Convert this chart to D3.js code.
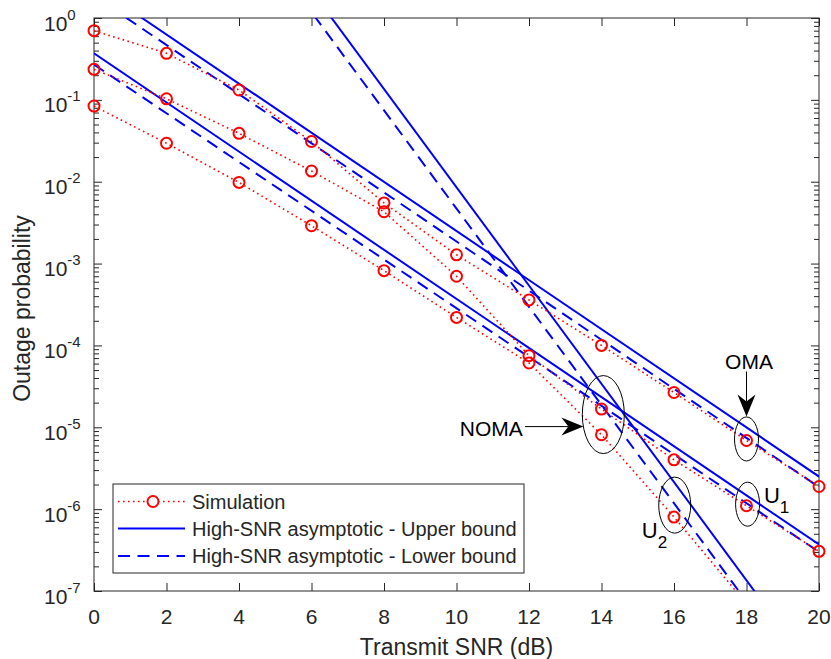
<!DOCTYPE html>
<html>
<head>
<meta charset="utf-8">
<script src="https://cdn.jsdelivr.net/npm/d3@7"></script>
<style>
  body { margin: 0; background: #fff; }
  svg { font-family: "Liberation Sans", Arial, sans-serif; }
</style>
</head>
<body>
<div id="chart"></div>
<script>
// SNR grid (dB)
const snr = [0, 2, 4, 6, 8, 10, 12, 14, 16, 18, 20]
const snrU2 = [0, 2, 4, 6, 8, 10, 12, 14, 16, 18]

// Simulation results
const omaSim = [0.70, 0.37, 0.132, 0.031, 0.0055, 0.00128, 3.6e-4, 1.0e-4, 2.66e-5, 6.9e-6, 1.89e-6]
const nomaU1Sim = [0.236, 0.103, 0.039, 0.0135, 0.0043, 7.0e-4, 7.5e-5, 1.67e-5, 4.0e-6, 1.1e-6, 3.05e-7]
const nomaU2Sim = [0.084, 0.0295, 0.0098, 0.0029, 8.2e-4, 2.2e-4, 6.1e-5, 8.1e-6, 8.0e-7, 7e-8]

// High-SNR asymptotes (straight on log axis), values at the ends of the range
const asymSnr = [0, 20]
const omaUpper = [2.5, 2.5e-6]
const omaLower = [1.86, 1.86e-6]
const nomaU1Upper = [0.37, 3.7e-7]
const nomaU1Lower = [0.27, 3.0e-7]
const nomaU2Upper = [8600, 8.5e-9]
const nomaU2Lower = [4700, 4.7e-9]

const xTicks = [0, 2, 4, 6, 8, 10, 12, 14, 16, 18, 20]
const yExponents = [0, -1, -2, -3, -4, -5, -6, -7]

const legendLabels = ['Simulation', 'High-SNR asymptotic - Upper bound', 'High-SNR asymptotic - Lower bound']

const width = 831, height = 659
const plot = { left: 94, right: 819, top: 18, bottom: 591 }
const axisColor = '#262626'
const red = '#ff0000', blue = '#0000ff'

const svg = d3.select('#chart').append('svg')
  .attr('width', width)
  .attr('height', height)

const x = d3.scaleLinear().domain([0, 20]).range([plot.left, plot.right])
const y = d3.scaleLog().domain([1e-7, 1]).range([plot.bottom, plot.top])

svg.append('defs').append('clipPath').attr('id', 'plot-clip')
  .append('rect')
  .attr('x', plot.left).attr('y', plot.top)
  .attr('width', plot.right - plot.left).attr('height', plot.bottom - plot.top)

// Axes: ticks pointing inward on all four sides
const minorTicks = []
for (let e = -7; e < 0; e++) for (let m = 2; m <= 9; m++) minorTicks.push(m * Math.pow(10, e))
const majorTicks = yExponents.map(e => Math.pow(10, e))

function drawAxis(axis, transform) {
  const g = svg.append('g').attr('transform', transform).call(axis)
  g.select('.domain').remove()
  g.selectAll('line').attr('stroke', axisColor).attr('stroke-width', 1)
  return g
}

drawAxis(d3.axisBottom(x).tickValues(xTicks).tickSize(-8).tickFormat(''), `translate(0,${plot.bottom})`)
drawAxis(d3.axisTop(x).tickValues(xTicks).tickSize(-8).tickFormat(''), `translate(0,${plot.top})`)
drawAxis(d3.axisLeft(y).tickValues(majorTicks).tickSize(-8).tickFormat(''), `translate(${plot.left},0)`)
drawAxis(d3.axisRight(y).tickValues(majorTicks).tickSize(-8).tickFormat(''), `translate(${plot.right},0)`)
drawAxis(d3.axisLeft(y).tickValues(minorTicks).tickSize(-5).tickFormat(''), `translate(${plot.left},0)`)
drawAxis(d3.axisRight(y).tickValues(minorTicks).tickSize(-5).tickFormat(''), `translate(${plot.right},0)`)

svg.append('rect')
  .attr('x', plot.left).attr('y', plot.top)
  .attr('width', plot.right - plot.left).attr('height', plot.bottom - plot.top)
  .attr('fill', 'none').attr('stroke', axisColor).attr('stroke-width', 1)

// x tick labels
svg.append('g').selectAll('text')
  .data(xTicks).enter().append('text')
  .attr('x', d => x(d)).attr('y', plot.bottom + 33)
  .attr('text-anchor', 'middle')
  .attr('font-size', 21).attr('fill', axisColor)
  .text(d => d)

// y tick labels 10^k
const yLab = svg.append('g').selectAll('text')
  .data(yExponents).enter().append('text')
  .attr('x', 44).attr('y', d => y(Math.pow(10, d)) + 12.5)
  .attr('font-size', 21).attr('fill', axisColor)
yLab.append('tspan').text('10')
yLab.append('tspan').attr('dy', -11).attr('font-size', 15).text(d => d)

// axis titles
svg.append('text')
  .attr('x', (plot.left + plot.right) / 2).attr('y', 655)
  .attr('text-anchor', 'middle').attr('font-size', 23).attr('fill', axisColor)
  .text('Transmit SNR (dB)')
svg.append('text')
  .attr('transform', `translate(30,${(plot.top + plot.bottom) / 2 + 4}) rotate(-90)`)
  .attr('text-anchor', 'middle').attr('font-size', 23).attr('fill', axisColor)
  .text('Outage probability')

// Plot lines
const lineGen = d3.line().x(d => x(d[0])).y(d => y(d[1]))
const lines = svg.append('g').attr('clip-path', 'url(#plot-clip)')

const asymptotes = [
  { v: omaUpper, dash: null }, { v: omaLower, dash: '12,7.5' },
  { v: nomaU1Upper, dash: null }, { v: nomaU1Lower, dash: '12,7.5' },
  { v: nomaU2Upper, dash: null }, { v: nomaU2Lower, dash: '12,7.5' }
]
asymptotes.forEach(a => {
  lines.append('path')
    .attr('d', lineGen(d3.zip(asymSnr, a.v)))
    .attr('fill', 'none').attr('stroke', blue).attr('stroke-width', 2)
    .attr('stroke-dasharray', a.dash)
})

const sims = [d3.zip(snr, omaSim), d3.zip(snr, nomaU1Sim), d3.zip(snrU2, nomaU2Sim)]
sims.forEach(s => {
  lines.append('path')
    .attr('d', lineGen(s))
    .attr('fill', 'none').attr('stroke', red).attr('stroke-width', 1.6)
    .attr('stroke-dasharray', '1.6,3.4')
})
sims.forEach(s => {
  svg.append('g').selectAll('circle')
    .data(s.filter(d => d[1] >= 1e-7)).enter().append('circle')
    .attr('cx', d => x(d[0])).attr('cy', d => y(d[1])).attr('r', 5.5)
    .attr('fill', 'none').attr('stroke', red).attr('stroke-width', 2)
})

// Annotations
const ann = svg.append('g')
const ellipses = [
  { x: 18, y: 7.2e-6, rx: 12, ry: 22 },
  { x: 14.05, y: 1.43e-5, rx: 21, ry: 39 },
  { x: 18.03, y: 1.15e-6, rx: 12, ry: 22 },
  { x: 16.02, y: 1.12e-6, rx: 16, ry: 28 }
]
ann.selectAll('ellipse').data(ellipses).enter().append('ellipse')
  .attr('cx', d => x(d.x)).attr('cy', d => y(d.y))
  .attr('rx', d => d.rx).attr('ry', d => d.ry)
  .attr('fill', 'none').attr('stroke', '#000').attr('stroke-width', 1)

function arrow(x1, y1, x2, y2) {
  const ang = Math.atan2(y2 - y1, x2 - x1)
  const len = 22, half = 9, notch = 15
  const p = (l, w) => [x2 - l * Math.cos(ang) - w * Math.sin(ang), y2 - l * Math.sin(ang) + w * Math.cos(ang)]
  ann.append('line')
    .attr('x1', x1).attr('y1', y1).attr('x2', x2 - notch * Math.cos(ang)).attr('y2', y2 - notch * Math.sin(ang))
    .attr('stroke', '#000').attr('stroke-width', 1)
  ann.append('path')
    .attr('d', d3.line()([[x2, y2], p(len, half), p(notch, 0), p(len, -half)]) + 'Z')
    .attr('fill', '#000')
}
arrow(x(18), y(4.8e-5), x(18), y(1.35e-5))
arrow(x(11.89), y(1.02e-5), x(13.5), y(1.02e-5))

ann.append('text').attr('x', x(18.07)).attr('y', y(5.2e-5))
  .attr('text-anchor', 'middle').attr('font-size', 21).text('OMA')
ann.append('text').attr('x', x(11.83)).attr('y', y(7.9e-6))
  .attr('text-anchor', 'end').attr('font-size', 21).text('NOMA')
const u1 = ann.append('text').attr('x', x(18.48)).attr('y', y(1.2e-6)).attr('font-size', 22)
u1.append('tspan').text('U')
u1.append('tspan').attr('dy', 10).attr('font-size', 17).text('1')
const u2 = ann.append('text').attr('x', x(15.11)).attr('y', y(4.5e-7)).attr('font-size', 22)
u2.append('tspan').text('U')
u2.append('tspan').attr('dy', 10).attr('font-size', 17).text('2')

// Legend
const legend = svg.append('g').attr('transform', 'translate(113,484)')
legend.append('rect')
  .attr('width', 411).attr('height', 89)
  .attr('fill', '#fff').attr('stroke', axisColor).attr('stroke-width', 1)
const rowY = [17.5, 44.5, 72]
legend.append('line').attr('x1', 5).attr('x2', 72).attr('y1', rowY[0]).attr('y2', rowY[0])
  .attr('stroke', red).attr('stroke-width', 1.6).attr('stroke-dasharray', '1.6,3.4')
legend.append('circle').attr('cx', 40).attr('cy', rowY[0]).attr('r', 5.5)
  .attr('fill', '#fff').attr('stroke', red).attr('stroke-width', 2)
legend.append('line').attr('x1', 5).attr('x2', 72).attr('y1', rowY[1]).attr('y2', rowY[1])
  .attr('stroke', blue).attr('stroke-width', 2)
legend.append('line').attr('x1', 5).attr('x2', 72).attr('y1', rowY[2]).attr('y2', rowY[2])
  .attr('stroke', blue).attr('stroke-width', 2).attr('stroke-dasharray', '12,7.5')
legend.selectAll('text.lbl').data(legendLabels).enter().append('text')
  .attr('class', 'lbl')
  .attr('x', 79).attr('y', (d, i) => rowY[i] + 7)
  .attr('font-size', 20).attr('fill', axisColor)
  .text(d => d)
</script>
</body>
</html>
